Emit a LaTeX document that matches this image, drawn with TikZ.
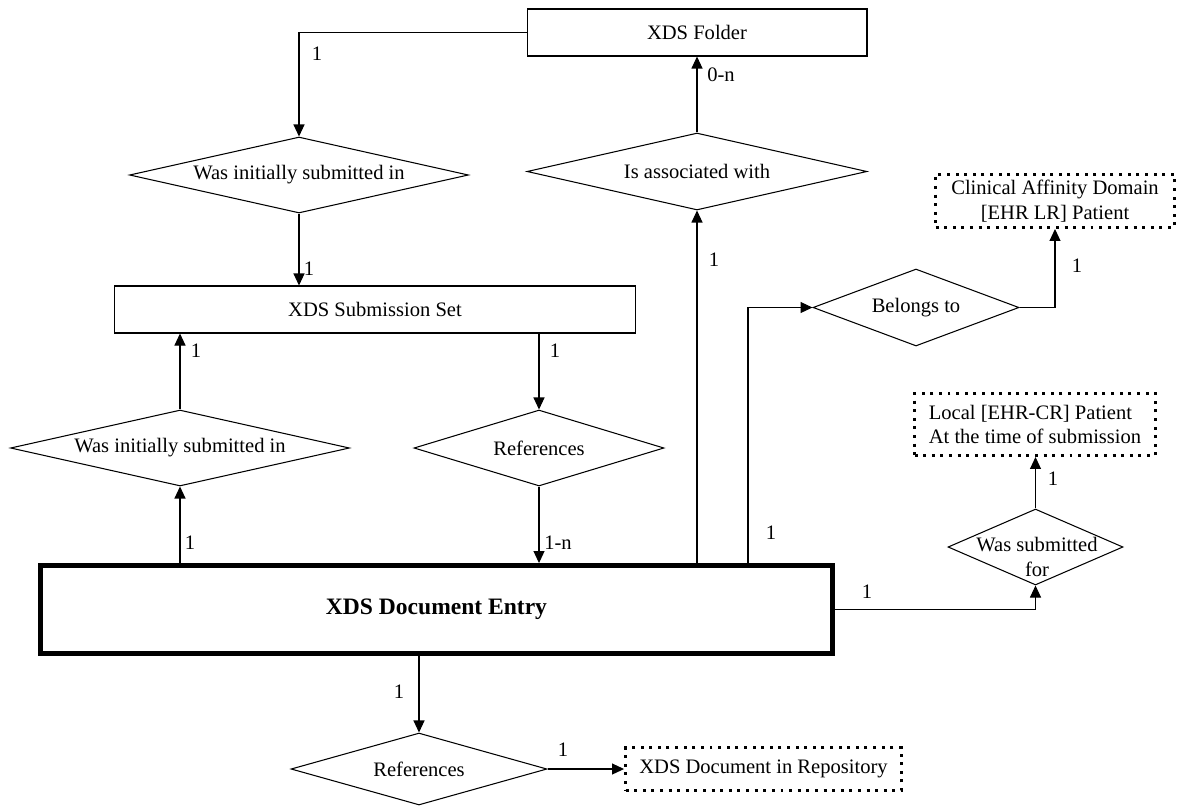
\documentclass[tikz,border=0pt]{standalone}
\usepackage{fontspec}
\setmainfont{Liberation Serif}
\usetikzlibrary{arrows.meta, shapes.geometric}
\tikzset{
  box/.style={rectangle,draw,align=center,inner sep=2pt,line width=0.6pt},
  dotbox/.style={rectangle,draw,inner sep=2pt,line width=1.7pt,dash pattern=on 1.7pt off 3.2pt},
  entity/.style={rectangle,draw,line width=2.8pt,font=\bfseries\fontsize{13.4}{16}\selectfont},
  decision/.style={diamond,draw,aspect=4.4,align=center,inner sep=0pt,line width=0.6pt},
  line/.style={-{Triangle[length=2.4mm,width=2.2mm]},line width=0.6pt},
  mult/.style={inner sep=0pt}
}

\begin{document}
\begin{tikzpicture}[x=0.02cm, y=-0.02cm, font=\fontsize{11.7}{14}\selectfont]
\useasboundingbox (0,0) rectangle (1179,805);
\node[box, minimum width=6.8cm, minimum height=0.94cm] (folder) at (697,32.5) {XDS Folder};
\node[box, minimum width=10.44cm, minimum height=0.94cm] (subset) at (375,309.5) {XDS Submission Set};
\node[entity, minimum width=15.86cm, minimum height=1.76cm] (entry) at (436.5,609.5) {XDS Document Entry};
\node[decision, minimum width=6.78cm, minimum height=1.52cm] (initfolder) at (299,175) {Was initially submitted in};
\node[decision, minimum width=6.8cm, minimum height=1.54cm] (assoc) at (697,171.5) {Is associated with};
\node[decision, minimum width=6.78cm, minimum height=1.52cm] (initset) at (180,448) {Was initially submitted in};
\node[decision, aspect=3.3, minimum width=5cm, minimum height=1.52cm] (refset) at (539,448) {References};
\node[decision, aspect=2.7, minimum width=4.12cm, minimum height=1.54cm] (belongs) at (916,307.5) {Belongs to};
\node[dotbox, align=center, minimum width=4.78cm, minimum height=1.06cm] (affinity) at (1055,201) {Clinical Affinity Domain\\{}[EHR LR] Patient};
\node[dotbox, align=left, minimum width=4.82cm, minimum height=1.24cm] (local) at (1035,424.5) {Local [EHR-CR] Patient\\At the time of submission};
\node[decision, aspect=2.3, minimum width=3.5cm, minimum height=1.52cm] (subfor) at (1035.5,547) {};
\node[align=center, inner sep=0pt] (subfortext) at (1037,557) {Was submitted\\for};
\node[decision, aspect=3.5, minimum width=5.12cm, minimum height=1.44cm] (refrepo) at (419,769) {References};
\node[dotbox, minimum width=5.52cm, minimum height=0.86cm] (repo) at (763.5,769) {XDS Document in Repository};
\coordinate (bfoot) at (748,0);

\draw[line] (folder.west) -| (initfolder.north);
\draw[line] (initfolder.south) -- (initfolder.south |- subset.north);
\draw[line] (initset.north) -- (initset.north |- subset.south);
\draw[line] (initset.south |- entry.north) -- (initset.south);
\draw[line] (refset.north |- subset.south) -- (refset.north);
\draw[line] (refset.south) -- (refset.south |- entry.north);
\draw[line] (assoc.south |- entry.north) -- (assoc.south);
\draw[line] (assoc.north) -- (assoc.north |- folder.south);
\draw[line] (bfoot |- entry.north) |- (belongs.west);
\draw[line] (belongs.east) -| (affinity.south);
\draw[line] (entry.east) -| (subfor.south);
\draw[line] (subfor.north) -- (subfor.north |- local.south);
\draw[line] (entry.south -| refrepo.north) -- (refrepo.north);
\draw[line] (refrepo.east) -- (repo.west);

\node[mult] (m1) at (317,54) {1};
\node[mult] (m2) at (309,269) {1};
\node[mult] (m3) at (196,351) {1};
\node[mult] (m4) at (190,543) {1};
\node[mult] (m5) at (555,351) {1};
\node[mult] (m6) at (558,543) {1-n};
\node[mult] (m7) at (714,260) {1};
\node[mult] (m8) at (721,75) {0-n};
\node[mult] (m9) at (771,533) {1};
\node[mult] (m10) at (1077,266) {1};
\node[mult] (m11) at (867,592) {1};
\node[mult] (m12) at (1053,479) {1};
\node[mult] (m13) at (399,692) {1};
\node[mult] (m14) at (563,750) {1};
\end{tikzpicture}
\end{document}
